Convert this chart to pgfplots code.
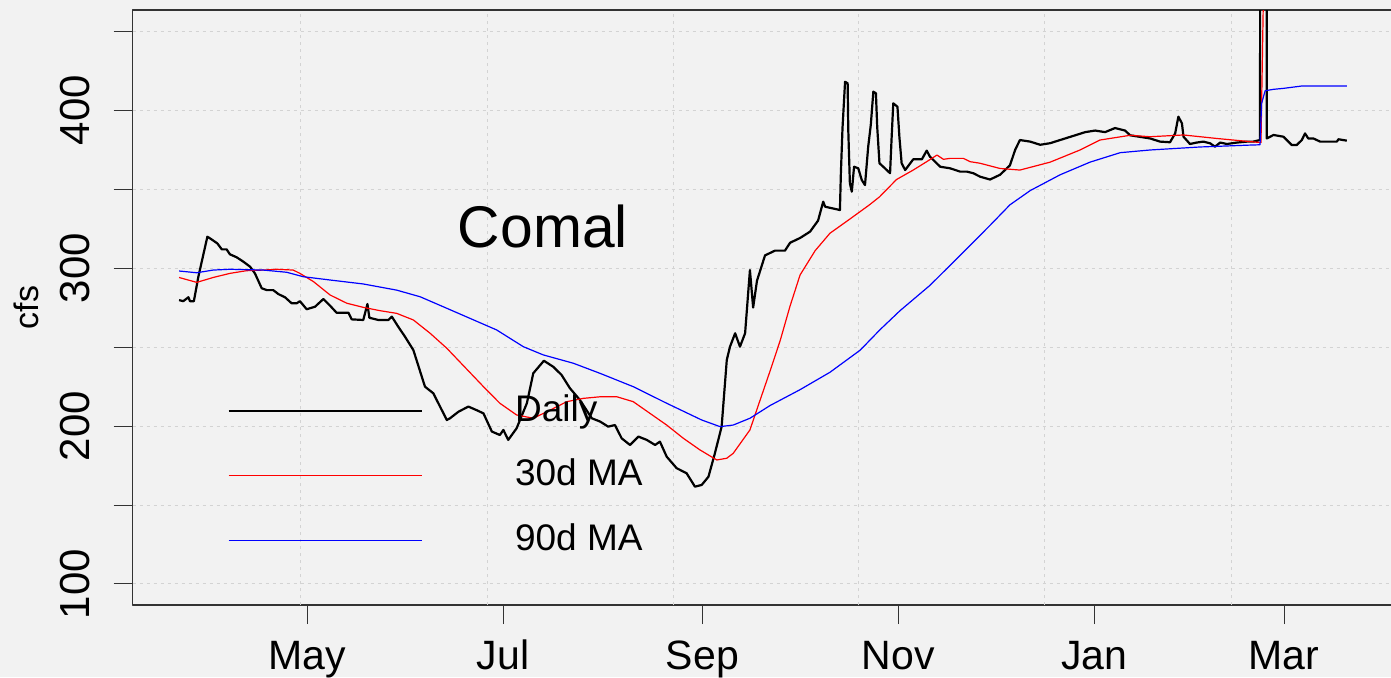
\documentclass[border=0pt]{standalone}
\usepackage{fontspec}
\setmainfont{Liberation Sans}
\usepackage{pgfplots}
\pgfplotsset{compat=1.18}
\definecolor{bgcol}{HTML}{F2F2F2}
\definecolor{gridgray}{RGB}{211,211,211}
\definecolor{mared}{RGB}{255,0,0}
\definecolor{mablue}{RGB}{0,0,255}
\begin{document}
\begin{tikzpicture}
\fill[bgcol] (-66.35pt,-36pt) rectangle (629.15pt,302.5pt);
\begin{axis}[
  at={(0,0)}, anchor=south west,
  scale only axis, width=631.15pt, height=297.5pt,
  xmin=-54.23, xmax=338.5, ymin=86.7, ymax=463.3,
  xtick={0,61,123,184,245,304},
  xticklabels={May,Jul,Sep,Nov,Jan,Mar},
  ytick={100,150,200,250,300,350,400,450},
  yticklabels={100,,200,,300,,400,},
  extra x ticks={-1.9,56.0,113.9,171.5,229.6,287.5},
  extra x tick labels={},
  extra x tick style={xmajorgrids=true, major tick length=0pt},
  ymajorgrids=true,
  grid style={color=gridgray, line width=0.5pt, dash pattern=on 1.5pt off 2pt},
  tick align=outside, xtick pos=left, ytick pos=left,
  major tick length=9.5pt,
  tick style={color=black!80, line width=0.5pt},
  axis line style={color=black!80, line width=0.75pt},
  xticklabel style={font=\fontsize{20.5}{24}\selectfont, inner sep=0pt, text height=15pt, text depth=4pt, yshift=-7.3pt},
  yticklabel style={font=\fontsize{21}{24}\selectfont, xshift=-11.5pt, rotate=90, anchor=south, inner sep=0pt},
  ylabel={cfs},
  ylabel style={font=\fontsize{17}{20}\selectfont, at={(axis description cs:-0.0743,0.5)}, anchor=south, inner sep=0pt},
  legend style={at={(0.0755,0.3563)}, anchor=north west, draw=none, fill=none, inner sep=0pt, outer sep=0pt, row sep=14.3pt, column sep=46pt, font=\fontsize{18.5}{20}\selectfont, nodes={inner sep=0pt, text height=14pt, text depth=4pt}},
  legend cell align=left,
  line join=round,
]
\addlegendimage{legend image code/.code={\draw[color=black, line width=0.65pt] (0pt,0pt) -- (96.85pt,0pt);}}
\addlegendentry{Daily}
\addlegendimage{legend image code/.code={\draw[color=mared, line width=0.7pt] (0pt,0pt) -- (96.85pt,0pt);}}
\addlegendentry{30d MA}
\addlegendimage{legend image code/.code={\draw[color=mablue, line width=0.65pt] (0pt,0pt) -- (96.85pt,0pt);}}
\addlegendentry{90d MA}
\addplot[black, line width=1.1pt, forget plot] coordinates {
(-39.8,279.7) (-38.5,279) (-36.9,281.5) (-36.4,279) (-35.2,279) (-33.8,294.5) (-31.0,319.8) (-30.2,318.8) (-27.9,315.6) (-26.5,311.8) (-25.0,311.8) (-24.0,308.7) (-21.9,306.8) (-19.8,304) (-17.7,300.8) (-16.2,296.6) (-14.1,287.2) (-12.5,286) (-10.5,286) (-8.9,283.5) (-6.8,281.4) (-4.8,277.7) (-3.2,277.7) (-2.2,279) (-0.1,273.9) (2.5,275.5) (5.1,280.4) (7.2,276.1) (9.2,271.7) (12.9,271.7) (13.9,267.5) (17.5,267.1) (18.8,277.2) (19.4,268.5) (22.2,267.1) (25.3,267.1) (26.4,269.2) (28.4,262.8) (30.5,256.5) (33.1,248) (36.7,224.9) (39.3,220.7) (43.5,203.8) (44.5,204.9) (47.1,209) (50.2,212.3) (52.8,210) (54.9,208) (57.5,196.5) (60.0,194.3) (61.1,197.5) (62.6,191.2) (65.2,198.5) (68.4,214.4) (70.4,233.4) (73.7,241.3) (76.6,237.5) (79.2,232.3) (81.8,223.9) (84.9,216.5) (88.6,204.9) (91.2,202.8) (93.7,199.6) (95.8,200.6) (97.9,192.2) (100.5,188) (103.1,193.3) (105.7,191.2) (108.3,188) (109.8,190.1) (111.9,180.6) (115.0,173.3) (118.1,170.1) (120.7,161.6) (122.8,162.7) (124.9,167.9) (126.9,182.7) (129.0,199.6) (130.6,241.8) (131.6,250.2) (133.2,258.7) (134.7,250.2) (136.3,258.7) (137.8,298.7) (138.8,275) (140.0,292) (142.5,308) (145.6,311) (148.7,311) (150.3,316) (153.4,319) (156.5,323) (159.0,330) (160.6,342) (161.2,338.8) (165.8,336.7) (166.1,360) (166.6,388.4) (167.4,417.9) (168.2,416.9) (168.4,387.3) (168.9,353.6) (169.5,348.3) (170.2,364.1) (171.5,363.1) (172.6,355.7) (173.6,352.5) (174.6,376.8) (175.4,390.5) (176.2,411.6) (177.0,410.6) (177.4,389.4) (178.1,366.3) (179.8,363.1) (181.4,360) (181.9,383.1) (182.4,404.2) (183.7,402.1) (184.3,383.1) (185.0,366.3) (186.1,362) (188.6,368.8) (191.3,368.8) (192.8,374.3) (193.8,370.5) (197.0,364.1) (200.1,363.1) (203.2,361) (205.3,361) (207.3,360) (209.4,357.8) (212.5,356) (215.6,359) (218.7,365) (220.3,374.7) (221.8,381) (225.0,380) (228.1,378) (231.2,379) (234.3,381) (239.0,384) (242.1,386) (245.2,387) (248.3,386) (251.4,388.6) (254.5,387) (256.1,384) (259.2,383) (262.3,382) (265.4,380) (268.5,379.6) (270.1,385.2) (271.1,395.8) (272.2,391.6) (272.7,383.1) (274.7,378.5) (276.8,379.4) (278.9,380) (281.0,378.9) (282.5,376.8) (284.1,379.4) (286.2,378.5) (289.3,379.4) (292.4,380) (294.4,380) (296.5,381) (297.5,2700) (298.6,382) (300.7,384.2) (303.8,383.1) (306.4,377.8) (307.9,377.8) (309.5,381) (310.5,385.2) (311.5,382) (313.1,382) (315.2,380) (320.4,380) (320.9,381.5) (323.5,380.6)
};
\addplot[mared, line width=0.6pt, forget plot] coordinates {
(-39.8,294) (-34.3,290.9) (-29.2,294) (-24.0,296.6) (-18.8,298.3) (-13.6,298.7) (-9.4,299.2) (-4.3,298.7) (-2.2,296.6) (2.0,291.4) (7.2,282.9) (12.4,277.7) (17.5,275.1) (22.7,273) (27.9,271.3) (33.1,267.1) (38.3,258.7) (43.5,249.2) (54.9,224.9) (60.0,214.4) (65.2,207) (70.4,204.9) (75.6,210) (80.8,215.4) (86.0,217.5) (91.2,218.5) (96.4,218.5) (101.5,215.4) (106.7,208) (111.9,200.6) (117.1,192.2) (122.3,184.8) (127.5,178.5) (130.6,179.6) (132.6,182.7) (137.8,197.5) (140.9,216) (144.1,235) (147.2,254) (150.3,276) (153.4,295.6) (158.1,311) (162.7,322) (168.9,331) (175.0,340) (178.1,345) (183.4,356) (188.6,362) (192.8,367.3) (196.0,371.5) (198.0,368.8) (200.1,369.4) (204.2,369.4) (206.3,367.3) (209.4,366.3) (215.6,363) (221.8,362) (231.2,367) (240.5,374.7) (246.7,381) (256.1,384) (262.3,383.1) (272.7,384.2) (283.0,382) (293.4,380) (296.8,379.4) (297.7,490) (323.5,485)
};
\addplot[mablue, line width=0.6pt, forget plot] coordinates {
(-39.8,298.1) (-34.3,297) (-29.2,298.7) (-24.0,299.2) (-13.6,298.7) (-6.3,297.3) (-1.2,294.5) (7.2,292.4) (17.5,289.9) (27.9,286) (35.2,281.8) (43.5,274.5) (59.0,260.8) (67.3,250.2) (73.5,245) (82.9,239.7) (91.2,233.3) (101.5,224.9) (111.9,214.4) (122.8,203.8) (128.5,199.6) (132.6,200.6) (137.8,204.9) (144.1,213) (153.4,223) (162.7,234) (172.1,248) (178.3,261) (184.5,273) (193.8,289) (203.2,308) (212.5,327) (218.7,340) (225.0,349) (234.3,359) (243.6,367) (253.0,373) (262.3,374.7) (277.8,376.6) (293.4,377.8) (296.5,378) (297.0,404.2) (298.1,412.2) (300.7,413.1) (303.8,413.7) (309.5,415.2) (323.5,415.2)
};
\node[font=\fontsize{29.4}{32}\selectfont, anchor=base] at (axis cs:73.4,312.7) {Comal};
\end{axis}
\pgfresetboundingbox
\useasboundingbox (-66.35pt,-36pt) rectangle (629.15pt,302.5pt);
\end{tikzpicture}
\end{document}
